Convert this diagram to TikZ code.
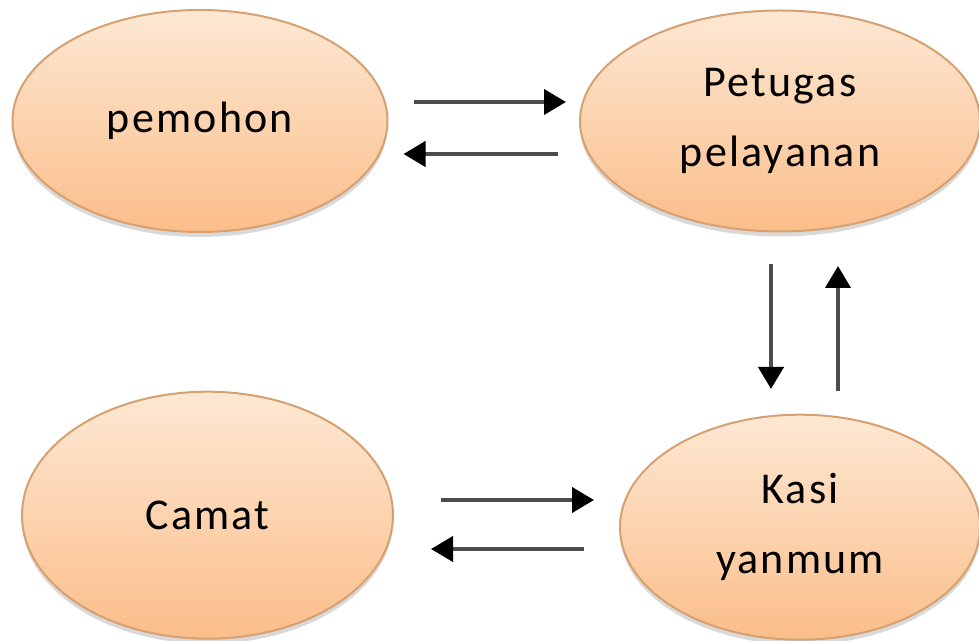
\documentclass[tikz,border=0pt]{standalone}
\usepackage{fontspec}
\setmainfont{Carlito}[LetterSpace=5]
\usetikzlibrary{arrows.meta}
\usetikzlibrary{positioning}
\usetikzlibrary{shapes.geometric}
\usetikzlibrary{shadows}
\definecolor{peachtop}{RGB}{253,232,212}
\definecolor{peachbottom}{RGB}{251,190,138}
\definecolor{peachline}{RGB}{214,160,112}

\begin{document}
\begin{tikzpicture}[font=\fontsize{22}{35}\selectfont,
    state/.style={ellipse, top color=peachtop, bottom color=peachbottom,
    draw=peachline, line width=1pt, inner sep=0pt, align=center,
    drop shadow={opacity=0.3, shadow xshift=0pt, shadow yshift=-2.5pt}},
    flow/.style={-{Triangle[length=11pt,width=12.5pt,color=black]},
    line width=2pt, draw=black!70}]

    \useasboundingbox (-100pt,60.5pt) rectangle (389.5pt,-260pt);

    \node[state, minimum width=187.5pt, minimum height=111pt] (pemohon) {pemohon};
    \node[state, minimum width=200pt, minimum height=110.5pt] (petugas) [right=95.25pt of pemohon] {Petugas\\pelayanan};
    \node[state, minimum width=180pt, minimum height=112.5pt] (kasi) [below=90.6pt of petugas, xshift=10pt] {Kasi\\yanmum};
    \node[state, minimum width=185.5pt, minimum height=123.5pt] (camat) [left=112.5pt of kasi, yshift=6pt] {Camat};

    \draw[flow] ([xshift=12.5pt, yshift=9.5pt]pemohon.east) -- ([xshift=-6.5pt, yshift=9.5pt]petugas.west);
    \draw[flow] ([xshift=-10.5pt, yshift=-16.5pt]petugas.west) -- ([xshift=7.5pt, yshift=-16.5pt]pemohon.east);

    \draw[flow] ([xshift=-4.5pt, yshift=-15.75pt]petugas.south) -- ([xshift=-14.5pt, yshift=12.35pt]kasi.north);
    \draw[flow] ([xshift=19pt, yshift=11.35pt]kasi.north) -- ([xshift=29pt, yshift=-16.75pt]petugas.south);

    \draw[flow] ([xshift=23.5pt, yshift=7.6pt]camat.east) -- ([xshift=-12.5pt, yshift=13.6pt]kasi.west);
    \draw[flow] ([xshift=-17.5pt, yshift=-10.9pt]kasi.west) -- ([xshift=18.5pt, yshift=-16.9pt]camat.east);
  \end{tikzpicture}
\end{document}
